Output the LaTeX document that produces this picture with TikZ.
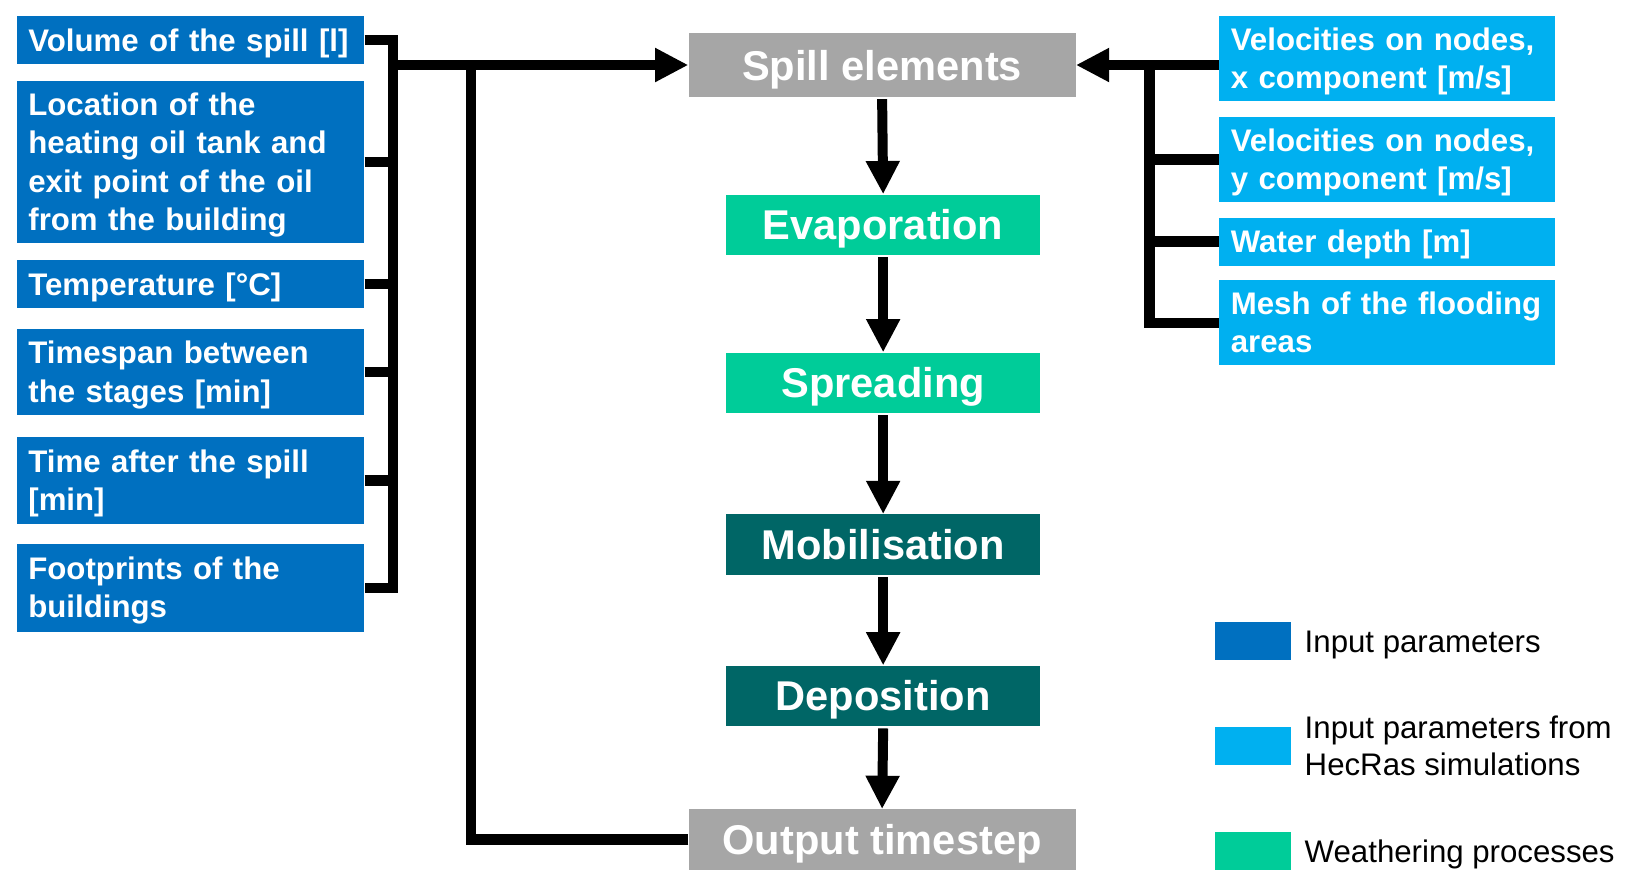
\documentclass[tikz,border=0pt]{standalone}
\usepackage{fontspec}
\setmainfont{Liberation Sans}
\usetikzlibrary{arrows.meta}
\definecolor{dblue}{HTML}{0070C0}
\definecolor{lblue}{HTML}{00B0F0}
\definecolor{wgreen}{HTML}{00CC99}
\definecolor{dteal}{HTML}{006666}
\definecolor{gbox}{HTML}{A6A6A6}
\begin{document}
\begin{tikzpicture}[x=0.75pt,y=-0.75pt,
  boxfont/.style={font=\bfseries\fontsize{22.5}{27.5}\selectfont},
  lbox/.style={boxfont, fill=dblue, text=white, anchor=north west, inner xsep=8.25pt, inner ysep=0pt, text width=234pt, align=left},
  rbox/.style={boxfont, fill=lblue, text=white, anchor=north west, inner xsep=8.25pt, inner ysep=0pt, text width=225.75pt, align=left},
  oneline/.style={text depth=0pt},
  mline/.style={execute at begin node={\rule{0pt}{20.5pt}}},
  cbox/.style={font=\bfseries\fontsize{30}{36}\selectfont, text=white, inner sep=0pt, minimum width=226.5pt, minimum height=43.5pt, text depth=0pt},
  gcbox/.style={cbox, fill=gbox, minimum width=279pt},
  ln/.style={line width=7.5pt, draw=black, line join=miter},
  arr/.style={line width=7.2pt, draw=black, -{Triangle[length=24pt,width=23pt]}},
  legsq/.style={fill=#1, draw=none, anchor=north west, minimum width=54.75pt, minimum height=27pt, inner sep=0pt},
  legtxt/.style={font=\fontsize{22.5}{27}\selectfont, anchor=west, align=left, inner sep=0pt}
]
\useasboundingbox (0,0) rectangle (1566,852);

% left input boxes
\node[lbox, oneline, minimum height=34.5pt] (l1) at (16,15)  {Volume of the spill [l]};
\node[lbox, mline, minimum height=116.25pt] (l2) at (16,78)  {Location of the\\heating oil tank and\\exit point of the oil\\from the building};
\node[lbox, oneline, minimum height=34.5pt] (l3) at (16,250) {Temperature [°C]};
\node[lbox, mline, minimum height=62.25pt]  (l4) at (16,316) {Timespan between\\the stages [min]};
\node[lbox, mline, minimum height=62.25pt]  (l5) at (16,420) {Time after the spill\\{}[min]};
\node[lbox, mline, minimum height=63pt]     (l6) at (16,523) {Footprints of the\\buildings};

% right input boxes
\node[rbox, mline, minimum height=61.5pt]   (r1) at (1172,15)  {Velocities on nodes,\\x component [m/s]};
\node[rbox, mline, minimum height=61.5pt]   (r2) at (1172,112) {Velocities on nodes,\\y component [m/s]};
\node[rbox, oneline, minimum height=34.5pt] (r3) at (1172,209) {Water depth [m]};
\node[rbox, minimum height=61.5pt]          (r4) at (1172,269) {Mesh of the flooding\\areas};

% center column
\node[gcbox, minimum height=45.75pt] (spill) at (848,62.5) {Spill elements};
\node[cbox, fill=wgreen] (evap) at (849,216)   {Evaporation};
\node[cbox, fill=wgreen] (spread) at (849,368) {Spreading};
\node[cbox, fill=dteal]  (mob) at (849,523.5)  {Mobilisation};
\node[cbox, fill=dteal]  (dep) at (849,669)    {Deposition};
\node[gcbox] (out) at (848,807) {Output timestep};

% helper coordinates
\coordinate (xbr) at (378,0);
\coordinate (xfb) at (453,0);
\coordinate (xrb) at (1105,0);

% left bracket
\draw[ln] (l1.east) -- (xbr |- l1.east) -- (xbr |- l6.east) -- (l6.east);
\foreach \b in {l2,l3,l4,l5} \draw[ln] (\b.east) -- (xbr |- \b.east);
\draw[arr] (xbr |- spill.west) -- (spill.west);

% feedback
\draw[ln] (out.west) -| (xfb |- spill.west);

% right bracket
\draw[arr] (r1.west |- spill.east) -- (spill.east);
\draw[ln] (xrb |- spill.east) -- (xrb |- r4.west) -- (r4.west);
\foreach \b in {r2,r3} \draw[ln] (\b.east -| xrb) -- (\b.west);

% vertical flow
\draw[arr] ([yshift=-1.5pt]spill.south) -- (evap.north);
\draw[arr] ([yshift=-1.5pt]evap.south) -- (spread.north);
\draw[arr] ([yshift=-1.5pt]spread.south) -- (mob.north);
\draw[arr] ([yshift=-1.5pt]mob.south) -- (dep.north);
\draw[arr] ([yshift=-1.5pt]dep.south) -- (out.north);

% legend
\node[legsq=dblue]  (k1) at (1168,598) {};
\node[legsq=lblue]  (k2) at (1168,699) {};
\node[legsq=wgreen] (k3) at (1168,800) {};
\node[legtxt, text depth=0pt] (t1) at (1254,617) {Input parameters};
\node[legtxt] (t2) at (1254,717) {Input parameters from\\HecRas simulations};
\node[legtxt, text depth=0pt] (t3) at (1254,818) {Weathering processes};
\end{tikzpicture}
\end{document}
